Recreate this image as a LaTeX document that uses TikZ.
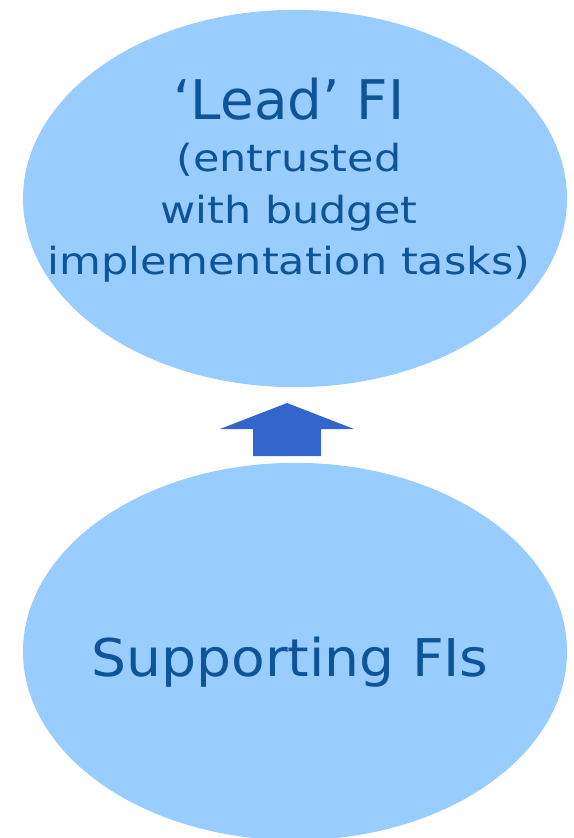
\documentclass[tikz,border=0pt]{standalone}
\usepackage{fontspec}
\setmainfont{DejaVu Sans}
\newfontfamily\fiwide[FakeStretch=1.15]{DejaVu Sans}
\newfontfamily\fimid[FakeStretch=1.06]{DejaVu Sans}
\usetikzlibrary{shapes.geometric, positioning}
\definecolor{fiblue}{HTML}{99CCFF}
\definecolor{firow}{HTML}{3366CC}
\definecolor{fitext}{HTML}{0F5496}
\tikzset{fiblob/.style={ellipse, fill=fiblue, inner sep=0pt, minimum width=408pt, minimum height=283pt}}
\tikzset{fiword/.style={text=fitext, align=center, inner sep=0pt}}

\begin{document}
\begin{tikzpicture}[x=0.75pt, y=-0.75pt]
                        \useasboundingbox (0, 0) rectangle (574, 838);

                        \node[fiblob] (lead) at (295, 198.5) {};
                        \node[fiblob] (support) at (295, 651.5) {};

                        \node[fiword, font=\fiwide\fontsize{28pt}{38.5pt}\selectfont] (leadtext) at (289, 180)
                            {{\rmfamily\fontsize{41pt}{41pt}\selectfont `Lead' FI}\\[1pt]
                             (entrusted\\ with budget\\ implementation tasks)};
                        \node[fiword, font=\fimid\fontsize{39pt}{39pt}\selectfont] (supporttext) at (290, 662) {Supporting FIs};

                        \coordinate (tip) at (287, 403);
                        \fill[firow] (253, 456) -- (253, 429) -- (220, 429) -- (tip) -- (354, 429) -- (321, 429) -- (321, 456) -- cycle;
                    \end{tikzpicture}
\end{document}
